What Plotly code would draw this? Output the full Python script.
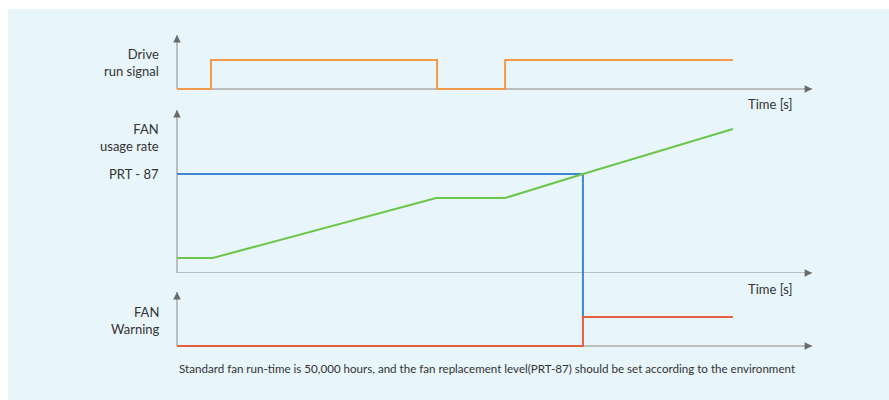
import plotly.graph_objects as go

# ---- data ----
run_t = [0, 1.0, 7.65, 9.65, 16.35]
run_v = [0, 1, 0, 1, 1]

usage_t = [0, 1.05, 7.62, 9.65, 11.94, 16.35]
usage_v = [9.2, 9.2, 46, 46, 60.7, 88.3]

prt_level = 60.7
prt_cross_t = 11.94

warn_t = [0, 11.94, 16.35]
warn_v = [0, 1, 1]

labels_top = "Drive<br>run signal"
labels_mid = "FAN<br>usage rate"
labels_bot = "FAN<br>Warning"
prt_label = "PRT - 87"
time_label = "Time [s]"
caption = ("Standard fan run-time is 50,000 hours, and the fan replacement "
           "level(PRT-87) should be set according to the environment")

# ---- layout helpers (pixels -> paper) ----
W, H = 889, 400
def px(x):
    return x / W
def py(y):
    return 1 - y / H

T0 = 177.0      # px of t = 0
TU = 34.0       # px per time unit
x_rng = [-0.3, 19.2]
x_tip = 18.68

TOP_U, MID_U, BOT_U = 29.0, 1.63, 29.0
top_rng = [-0.12, 2.2]
mid_rng = [0, 106]
bot_rng = [-0.12, 2.517]
top_tip, mid_tip, bot_tip = 1.862, 100, 1.862

ORANGE = "#f39a48"
GREEN = "#6cc64a"
BLUE = "#3f88cf"
RED = "#e4603e"
AX = "#ababab"
HEAD = "#6a6a6a"
TXT = "#333333"
FONT = "Lato"

fig = go.Figure()

fig.add_trace(go.Scatter(x=run_t, y=run_v, mode="lines", line=dict(color=ORANGE, width=2, shape="hv"),
                         xaxis="x", yaxis="y", hoverinfo="skip"))
fig.add_trace(go.Scatter(x=[0, prt_cross_t, prt_cross_t], y=[prt_level, prt_level, 0], mode="lines",
                         line=dict(color=BLUE, width=2), xaxis="x", yaxis="y2", hoverinfo="skip"))
fig.add_trace(go.Scatter(x=usage_t, y=usage_v, mode="lines", line=dict(color=GREEN, width=2),
                         xaxis="x", yaxis="y2", hoverinfo="skip"))
fig.add_trace(go.Scatter(x=[prt_cross_t, prt_cross_t], y=[1, bot_rng[1]], mode="lines",
                         line=dict(color=BLUE, width=2), xaxis="x", yaxis="y3", hoverinfo="skip"))
fig.add_trace(go.Scatter(x=warn_t, y=warn_v, mode="lines", line=dict(color=RED, width=2, shape="hv"),
                         xaxis="x", yaxis="y3", hoverinfo="skip"))

shapes = [dict(type="rect", xref="paper", yref="paper", x0=px(8), x1=1, y0=0, y1=py(9),
               fillcolor="#e8f5fa", line=dict(width=0), layer="below")]
annotations = []

for yax, tip in (("y", top_tip), ("y2", mid_tip), ("y3", bot_tip)):
    shapes.append(dict(type="line", xref="x", yref=yax, x0=0, x1=0, y0=0, y1=tip,
                       line=dict(color=AX, width=1.5), layer="below"))
    annotations.append(dict(xref="x", yref=yax, x=0, y=tip, ax=0, ay=8, text="", showarrow=True,
                            arrowhead=2, arrowsize=1, arrowwidth=1.5, arrowcolor=HEAD))
for yax in ("y", "y2", "y3"):
    shapes.append(dict(type="line", xref="x", yref=yax, x0=0, x1=x_tip, y0=0, y1=0,
                       line=dict(color=AX, width=1.5), layer="below"))
    annotations.append(dict(xref="x", yref=yax, x=x_tip, y=0, ax=-8, ay=0, text="", showarrow=True,
                            arrowhead=2, arrowsize=1, arrowwidth=1.5, arrowcolor=HEAD))

def label(text, x, y, yref="paper", xanchor="right", size=13):
    annotations.append(dict(text=text, xref="paper", yref=yref, x=x, y=y, xanchor=xanchor,
                            yanchor="middle", showarrow=False, align="right",
                            font=dict(family=FONT, size=size, color=TXT)))

label(labels_top, px(161), py(63))
label(labels_mid, px(161), py(137))
label(prt_label, px(161), prt_level, yref="y2")
label(labels_bot, px(162), py(320))
label(time_label, px(794), py(104))
label(time_label, px(794), py(289))
label(caption, px(177), py(368), xanchor="left", size=11.6)

fig.update_layout(
    width=W, height=H, autosize=False,
    margin=dict(l=0, r=0, t=0, b=0),
    paper_bgcolor="white", plot_bgcolor="rgba(0,0,0,0)",
    showlegend=False,
    xaxis=dict(domain=[px(T0 + x_rng[0] * TU), px(T0 + x_rng[1] * TU)], range=x_rng, visible=False),
    yaxis=dict(domain=[py(89 - top_rng[0] * TOP_U), py(89 - top_rng[1] * TOP_U)], range=top_rng, visible=False),
    yaxis2=dict(domain=[py(273 - mid_rng[0] * MID_U), py(273 - mid_rng[1] * MID_U)], range=mid_rng, visible=False),
    yaxis3=dict(domain=[py(346 - bot_rng[0] * BOT_U), py(346 - bot_rng[1] * BOT_U)], range=bot_rng, visible=False),
    shapes=shapes,
    annotations=annotations,
)

fig.write_html("out.html", config={"displayModeBar": False},
               post_script="document.body.style.margin='0px';document.body.style.overflow='hidden';")
